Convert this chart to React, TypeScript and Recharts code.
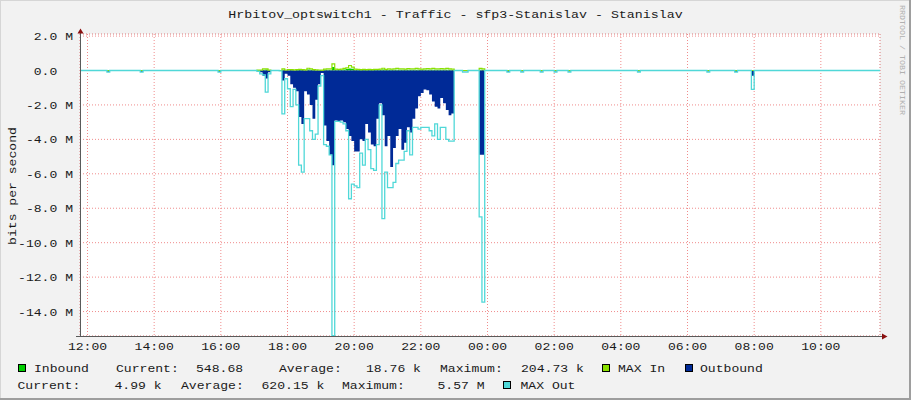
import React from "react";
import { ComposedChart, Area, Line, XAxis, YAxis, CartesianGrid } from "recharts";

const FONT = '"Liberation Mono", "DejaVu Sans Mono", monospace';
const CW = 7.85;

// time axis in minutes after 12:00, one day shown
const xDomain = [-13.5, 1426.5];
const hourTicks = [0, 120, 240, 360, 480, 600, 720, 840, 960, 1080, 1200, 1320];
const hourLabels = ["12:00", "14:00", "16:00", "18:00", "20:00", "22:00", "00:00", "02:00", "04:00", "06:00", "08:00", "10:00"];
const halfHourTicks = Array.from({ length: 48 }, (_, i) => i * 30);

// values in Mbit/s
const yDomain = [-15.42, 2.12];
const yTicks = [-14, -12, -10, -8, -6, -4, -2, 0, 2];
const yMinorTicks = Array.from({ length: 35 }, (_, i) => -15 + i * 0.5);

// 5 minute samples of the busy evening
const activeStart = "17:05";
const outbound = [
  -0.02, -0.1, -0.3, -0.46, -0.1, 0, 0, 0, 0, -0.58,
  -0.19, -0.3, -0.8, -1.0, -1.2, -2.7, -3.1, -1.2, -1.4, -2.0,
  -2.8, -1.7, -0.8, -0.15, -3.2, -4.1, -4.9, -5.5, -2.9, -2.95,
  -2.9, -3.0, -3.4, -3.8, -4.1, -4.7, -4.7, -4.0, -4.1, -3.1,
  -3.6, -4.3, -4.4, -2.8, -1.9, -2.6, -4.4, -3.8, -5.6, -4.5,
  -3.8, -3.4, -4.6, -4.2, -3.3, -3.6, -2.8, -2.2, -1.5, -1.3,
  -1.1, -1.15, -1.4, -1.8, -2.1, -2.2, -1.6, -1.9, -2.3, -2.6,
  -2.5, 0, 0, 0, -0.05, -0.05, 0, 0, 0, 0,
  -4.9, -4.9, 0,
];
const maxOut = [
  -0.05, -0.2, -0.25, -1.26, -0.2, 0, 0, 0, -0.02, -2.52,
  -0.48, -1.06, -2.1, -1.1, -2.0, -5.5, -5.9, -2.8, -2.8, -3.5,
  -4.0, -3.7, -0.9, -0.3, -4.3, -4.4, -4.9, -15.4, -2.95, -2.95,
  -3.0, -3.1, -3.5, -7.45, -6.6, -6.7, -6.8, -4.8, -5.5, -4.0,
  -4.6, -5.7, -5.8, -4.3, -2.0, -8.6, -5.9, -6.8, -6.8, -6.5,
  -5.4, -5.2, -5.2, -4.7, -3.5, -4.9, -3.3, -3.3, -3.4, -3.3,
  -3.3, -3.3, -3.5, -3.8, -3.1, -4.0, -3.3, -3.3, -4.0, -4.1,
  -4.1, 0, 0, 0, -0.1, -0.1, 0, 0, 0, 0,
  -8.5, -13.45, 0,
];
const inbound = [
  0.01, 0.02, 0.05, 0.06, 0.01, 0, 0, 0, 0, 0.05,
  0.02, 0.02, 0.03, 0.02, 0.03, 0.03, 0.03, 0.02, 0.06, 0.05,
  0.03, 0.02, 0.02, 0.01, 0.04, 0.05, 0.05, 0.2, 0.04, 0.03,
  0.04, 0.06, 0.08, 0.12, 0.1, 0.04, 0.03, 0.03, 0.03, 0.03,
  0.03, 0.03, 0.03, 0.04, 0.04, 0.06, 0.03, 0.04, 0.04, 0.04,
  0.04, 0.04, 0.05, 0.04, 0.04, 0.05, 0.04, 0.04, 0.05, 0.04,
  0.04, 0.04, 0.05, 0.04, 0.04, 0.05, 0.04, 0.04, 0.05, 0.04,
  0.03, 0, 0, 0, 0, 0, 0, 0, 0, 0,
  0.05, 0.05, 0,
];
const maxIn = [
  0.02, 0.03, 0.1, 0.1, 0.02, 0, 0, 0, 0, 0.1,
  0.03, 0.05, 0.05, 0.04, 0.05, 0.06, 0.05, 0.04, 0.13, 0.1,
  0.05, 0.04, 0.03, 0.02, 0.08, 0.1, 0.1, 0.39, 0.08, 0.06,
  0.08, 0.12, 0.15, 0.29, 0.2, 0.08, 0.06, 0.05, 0.06, 0.05,
  0.06, 0.05, 0.06, 0.07, 0.08, 0.13, 0.06, 0.1, 0.08, 0.1,
  0.12, 0.09, 0.1, 0.08, 0.11, 0.1, 0.09, 0.12, 0.1, 0.08,
  0.1, 0.11, 0.09, 0.12, 0.1, 0.09, 0.11, 0.1, 0.12, 0.1,
  0.08, 0, 0, 0, 0, 0, 0, 0, 0, 0,
  0.12, 0.1, 0,
];

// little blips during the quiet hours
const quietTimes = ["12:35", "13:35", "15:55", "00:35", "01:00", "01:35", "02:00", "02:25", "04:30", "06:35", "07:25", "07:55"];
const quietOut = [-0.07, -0.07, -0.07, -0.07, -0.06, -0.06, -0.06, -0.06, -0.06, -0.06, -0.07, -0.3];
const quietMaxOut = [-0.1, -0.1, -0.1, -0.1, -0.09, -0.09, -0.09, -0.09, -0.09, -0.09, -0.1, -1.1];

const legendTop = [
  { x: 34, text: "Inbound" },
  { x: 116, text: "Current:" },
  { x: 196, text: "548.68" },
  { x: 279, text: "Average:" },
  { x: 366, text: "18.76 k" },
  { x: 440, text: "Maximum:" },
  { x: 521, text: "204.73 k" },
  { x: 618, text: "MAX In" },
  { x: 700, text: "Outbound" },
];
const legendBottom = [
  { x: 17.5, text: "Current:" },
  { x: 114.5, text: "4.99 k" },
  { x: 181, text: "Average:" },
  { x: 261.5, text: "620.15 k" },
  { x: 342, text: "Maximum:" },
  { x: 437.5, text: "5.57 M" },
  { x: 520.5, text: "MAX Out" },
];
const legendBoxes = [
  { x: 18, y: 364, color: "#00CF00" },
  { x: 602, y: 364, color: "#8AE000" },
  { x: 685, y: 364, color: "#002A97" },
  { x: 503, y: 381, color: "#50D8D8" },
];

const toMin = (s: string) => {
  const [h, m] = s.split(":").map(Number);
  let v = h * 60 + m - 720;
  if (v < 0) v += 1440;
  return v;
};

type Row = { t: number; inb: number; maxIn: number; out: number; maxOut: number };
const rows = new Map<number, Row>();
const put = (t: number, inb: number, mi: number, o: number, mo: number) =>
  rows.set(t, { t, inb, maxIn: mi, out: o, maxOut: mo });

put(-15, 0, 0, 0, 0);
quietTimes.forEach((s, i) => {
  const t = toMin(s);
  put(t, 0, 0, quietOut[i], quietMaxOut[i]);
  if (!rows.has(t + 5)) put(t + 5, 0, 0, 0, 0);
});
const start = toMin(activeStart);
outbound.forEach((v, i) => put(start + i * 5, inbound[i], maxIn[i], v, maxOut[i]));
put(1430, 0, 0, 0, 0);
const data = [...rows.values()].sort((a, b) => a.t - b.t);

function XTick(props: any) {
  const { x, y, payload } = props;
  const label = hourLabels[hourTicks.indexOf(payload.value)] ?? "";
  return (
    <text x={x} y={y + 14} textAnchor="middle" fontFamily={FONT} fontSize={11} fill="#1a1a1a"
      textLength={label.length * CW} lengthAdjust="spacingAndGlyphs">
      {label}
    </text>
  );
}

function YTick(props: any) {
  const { y, payload } = props;
  const v = payload.value as number;
  const label = v === 0 ? "0.0" : `${v.toFixed(1)} M`;
  const right = v === 0 ? 73 - 2 * CW : 73;
  return (
    <text x={right} y={y + 4} textAnchor="end" fontFamily={FONT} fontSize={11} fill="#1a1a1a"
      textLength={label.length * CW} lengthAdjust="spacingAndGlyphs">
      {label}
    </text>
  );
}

const title = "Hrbitov_optswitch1 - Traffic - sfp3-Stanislav - Stanislav";

export default function App() {
  return (
    <div style={{ position: "absolute", left: 0, top: 0, width: 911, height: 400, background: "#f2f2f2" }}>
      <ComposedChart width={911} height={400} data={data} margin={{ top: 34, right: 31, bottom: 0, left: 0 }}>
        <XAxis xAxisId="minor" type="number" dataKey="t" domain={xDomain} ticks={halfHourTicks} interval={0}
          allowDataOverflow tick={false} tickLine={false} axisLine={false} height={0} />
        <YAxis yAxisId="minor" type="number" domain={yDomain} ticks={yMinorTicks} interval={0}
          allowDataOverflow tick={false} tickLine={false} axisLine={false} width={0} />
        <XAxis type="number" dataKey="t" domain={xDomain} ticks={hourTicks} interval={0} allowDataOverflow
          tick={<XTick />} tickLine={false} axisLine={false} tickSize={0} tickMargin={0} height={64} />
        <YAxis type="number" domain={yDomain} ticks={yTicks} interval={0} allowDataOverflow
          tick={<YTick />} tickLine={false} axisLine={false} tickSize={0} tickMargin={0} width={80} />
        <CartesianGrid xAxisId="minor" yAxisId="minor" fill="#ffffff" stroke="#c8c8c8" strokeDasharray="1 2" />
        <CartesianGrid stroke="#f08c8c" strokeDasharray="1 2" />
        <Area dataKey="inb" type="stepAfter" fill="#00CF00" fillOpacity={1} stroke="none" baseValue={0} isAnimationActive={false} />
        <Line dataKey="maxIn" type="stepAfter" stroke="#8AE000" strokeWidth={1.2} dot={false} isAnimationActive={false} />
        <Area dataKey="out" type="stepAfter" fill="#002A97" fillOpacity={1} stroke="none" baseValue={0} isAnimationActive={false} />
        <Line dataKey="maxOut" type="stepAfter" stroke="#50D8D8" strokeWidth={1.3} dot={false} isAnimationActive={false} />
      </ComposedChart>
      <svg width={911} height={400} style={{ position: "absolute", left: 0, top: 0, pointerEvents: "none" }}>
        <line x1={0} y1={0.5} x2={911} y2={0.5} stroke="#d6d6d6" />
        <line x1={0.5} y1={0} x2={0.5} y2={400} stroke="#d6d6d6" />
        <line x1={910} y1={0} x2={910} y2={400} stroke="#9e9e9e" strokeWidth={2} />
        <line x1={0} y1={399} x2={911} y2={399} stroke="#9e9e9e" strokeWidth={2} />
        <text x={455.5} y={17.5} textAnchor="middle" fontFamily={FONT} fontSize={11.5} fill="#1a1a1a"
          textLength={title.length * 7.97} lengthAdjust="spacingAndGlyphs">{title}</text>
        <text transform="translate(16,186) rotate(-90)" textAnchor="middle" fontFamily={FONT} fontSize={11} fill="#1a1a1a"
          textLength={15 * CW} lengthAdjust="spacingAndGlyphs">bits per second</text>
        <text transform="translate(900,5) rotate(90)" fontFamily={FONT} fontSize={7.5} fill="#b0b0b0"
          textLength={110} lengthAdjust="spacingAndGlyphs">RRDTOOL / TOBI OETIKER</text>
        <line x1={80.5} y1={30} x2={80.5} y2={336} stroke="#5a5a5a" />
        <line x1={76} y1={336.5} x2={884} y2={336.5} stroke="#5a5a5a" />
        <polygon points="77.5,33.5 83.5,33.5 80.5,28.5" fill="#8b1010" />
        <polygon points="882,333.5 882,339.5 887.5,336.5" fill="#8b1010" />
        {legendBoxes.map((b, i) => (
          <rect key={i} x={b.x + 0.5} y={b.y + 0.5} width={7} height={7} fill={b.color} stroke="#000" />
        ))}
        {legendTop.map((l, i) => (
          <text key={"a" + i} x={l.x} y={372} fontFamily={FONT} fontSize={11} fill="#1a1a1a"
            textLength={l.text.length * CW} lengthAdjust="spacingAndGlyphs">{l.text}</text>
        ))}
        {legendBottom.map((l, i) => (
          <text key={"b" + i} x={l.x} y={389} fontFamily={FONT} fontSize={11} fill="#1a1a1a"
            textLength={l.text.length * CW} lengthAdjust="spacingAndGlyphs">{l.text}</text>
        ))}
      </svg>
    </div>
  );
}
